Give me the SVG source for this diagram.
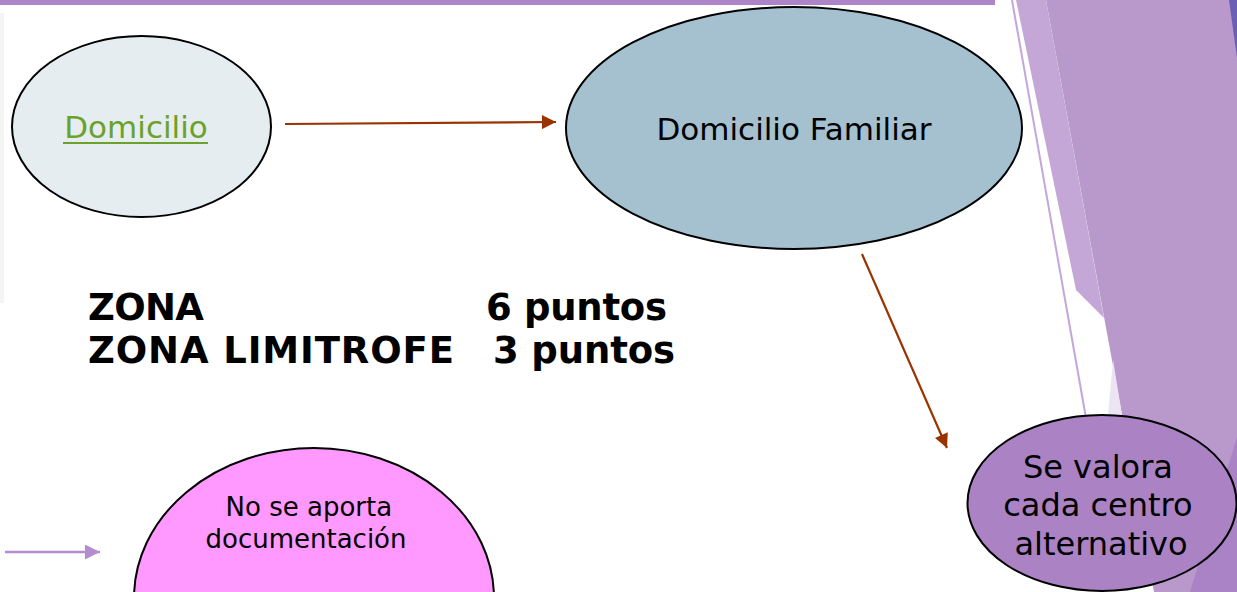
<svg xmlns="http://www.w3.org/2000/svg" width="1237" height="592" viewBox="0 0 1237 592">
<defs>
<style>
.node{stroke:#000;stroke-width:2}
.t{font-family:"DejaVu Sans","Verdana",sans-serif;fill:#000}
.b{font-family:"DejaVu Sans","Verdana",sans-serif;font-weight:bold;font-size:37px;fill:#000}
.brown{stroke:#993300;stroke-width:2.2;fill:none}
.lav{stroke:#b58cd0;stroke-width:2.6;fill:none}
</style>
<marker id="ab" viewBox="0 0 10 10" refX="10" refY="5" markerUnits="userSpaceOnUse" markerWidth="16" markerHeight="14" orient="auto">
<path d="M0,0 L10,5 L0,10 Z" fill="#993300"/>
</marker>
<marker id="al" viewBox="0 0 10 10" refX="10" refY="5" markerUnits="userSpaceOnUse" markerWidth="16" markerHeight="15" orient="auto">
<path d="M0,0 L10,5 L0,10 Z" fill="#b58cd0"/>
</marker>
</defs>
<rect width="1237" height="592" fill="#fff"/>
<g id="decor">
<rect x="0" y="0" width="995" height="5" fill="#ad84c6"/>
<rect x="0" y="13" width="4" height="290" fill="#f4f4f4"/>
<polygon points="1046,0 1237,0 1237,592 1154,592 1122,415" fill="#b998cc"/>
<polygon points="1016,0 1046,0 1104,318 1076,290" fill="#c5a7d7"/>
<polygon points="1113,360 1122,415 1108,415" fill="#ede4f3"/>
<polygon points="1237,437 1237,592 1190,592" fill="#a983c5"/>
<polygon points="1229,0 1237,0 1237,58" fill="#6a5fb5"/>
<line x1="1012" y1="0" x2="1086" y2="418" stroke="#c4a6de" stroke-width="2"/>
</g>
<g id="connectors">
<line class="brown" x1="285" y1="124" x2="556" y2="122" marker-end="url(#ab)"/>
<line class="brown" x1="862" y1="254" x2="947" y2="448" marker-end="url(#ab)"/>
<line class="lav" x1="5" y1="552" x2="100" y2="552" marker-end="url(#al)"/>
</g>
<g id="n-domicilio">
<ellipse class="node" cx="141.5" cy="126.5" rx="129.5" ry="90.5" fill="#e5edf0"/>
<text class="t" x="136" y="138" font-size="31" text-anchor="middle" style="fill:#6aa22a">Domicilio</text>
<line x1="63" y1="143" x2="208" y2="143" stroke="#6aa22a" stroke-width="2"/>
</g>
<g id="n-familiar">
<ellipse class="node" cx="794" cy="128" rx="228" ry="121" fill="#a5c0cf"/>
<text class="t" x="794" y="140" font-size="31" text-anchor="middle">Domicilio Familiar</text>
</g>
<g id="n-zona">
<text class="b" x="88" y="320" textLength="116">ZONA</text>
<text class="b" x="486" y="320" textLength="181">6 puntos</text>
<text class="b" x="88" y="363" textLength="366">ZONA LIMITROFE</text>
<text class="b" x="493" y="363" textLength="182">3 puntos</text>
</g>
<g id="n-valora">
<ellipse class="node" cx="1102" cy="503" rx="134.5" ry="88" fill="#ab83c5"/>
<text class="t" font-size="32" text-anchor="middle">
<tspan x="1103" y="478">Se valora</tspan>
<tspan x="1103" y="516">cada centro</tspan>
<tspan x="1101" y="555">alternativo</tspan>
</text>
</g>
<g id="n-nodoc">
<ellipse class="node" cx="314" cy="598" rx="180" ry="150" fill="#ff99ff"/>
<text class="t" font-size="26" text-anchor="middle">
<tspan x="313" y="516">No se aporta</tspan>
<tspan x="306" y="548">documentación</tspan>
</text>
</g>
</svg>
